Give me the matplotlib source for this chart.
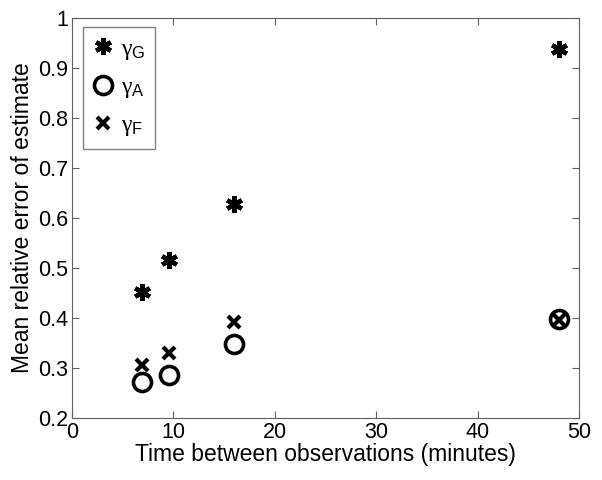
import matplotlib
matplotlib.use("Agg")
import matplotlib.pyplot as plt

plt.rcParams['font.family'] = ['Liberation Sans', 'DejaVu Sans']
plt.rcParams['mathtext.fontset'] = 'custom'
plt.rcParams['mathtext.rm'] = 'Liberation Sans'
plt.rcParams['mathtext.it'] = 'Liberation Serif'

# datos
minutes = [6.9, 9.6, 16.0, 48.0]
gamma_G = [0.452, 0.516, 0.628, 0.938]
gamma_A = [0.272, 0.286, 0.348, 0.398]
gamma_F = [0.306, 0.331, 0.393, 0.397]

fig = plt.figure(figsize=(6.02, 4.8), dpi=100)
ax = fig.add_axes([72 / 602, 62 / 480, 507 / 602, 400 / 480])

ax.plot(minutes, gamma_G, linestyle='none', marker=(6, 2, 0), markersize=12,
        markeredgewidth=3.2, color='black', label=r'$\gamma_{\mathrm{G}}$')
ax.plot(minutes, gamma_A, linestyle='none', marker='o', markersize=13,
        markeredgewidth=2.6, markerfacecolor='none', color='black',
        label=r'$\gamma_{\mathrm{A}}$')
ax.plot(minutes, gamma_F, linestyle='none', marker='x', markersize=8.5,
        markeredgewidth=3, color='black', label=r'$\gamma_{\mathrm{F}}$')

ax.set_xlim(0, 50)
ax.set_ylim(0.2, 1)
ax.set_xticks([0, 10, 20, 30, 40, 50])
ax.set_yticks([0.2, 0.3, 0.4, 0.5, 0.6, 0.7, 0.8, 0.9, 1])
ax.set_yticklabels(['0.2', '0.3', '0.4', '0.5', '0.6', '0.7', '0.8', '0.9', '1'])

for s in ax.spines.values():
    s.set_color('#606060')
ax.tick_params(direction='in', length=5, color='#606060', labelsize=15.5,
               top=True, right=True, pad=3)

ax.set_xlabel('Time between observations (minutes)', fontsize=16.5, labelpad=0)
ax.set_ylabel('Mean relative error of estimate', fontsize=16.5, labelpad=3)

leg = ax.legend(loc='upper left', fontsize=17, frameon=True, fancybox=False,
                edgecolor='#606060', handletextpad=0.35, labelspacing=0.6,
                handlelength=0.8, borderpad=0.45, borderaxespad=0,
                bbox_to_anchor=(11 / 507, 391 / 400))
leg.get_frame().set_linewidth(1)

fig.savefig('out.png', dpi=100)
